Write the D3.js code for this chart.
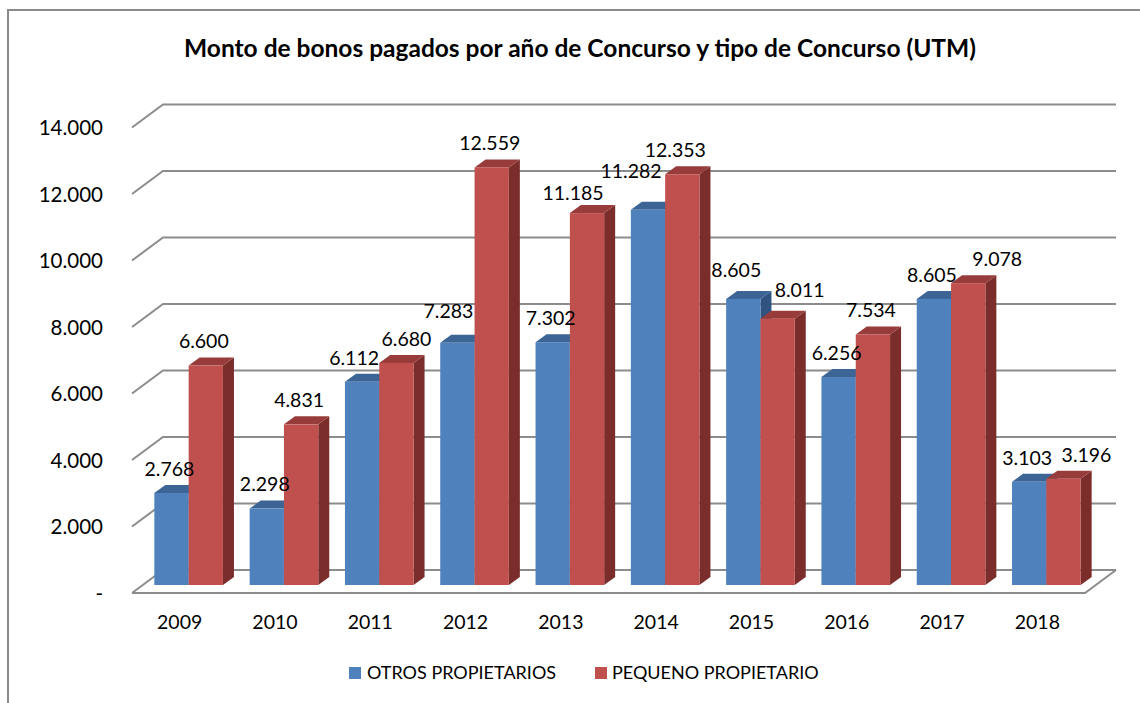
<!DOCTYPE html>
<html><head><meta charset="utf-8">
<script src="https://cdn.jsdelivr.net/npm/d3@7/dist/d3.min.js"></script>
<style>
html,body{margin:0;padding:0;background:#fff;}
svg text{font-family:Lato,"Open Sans",sans-serif;fill:#000;}
</style></head>
<body>
<svg id="chart" width="1140" height="703"></svg>
<script>
const title = "Monto de bonos pagados por año de Concurso y tipo de Concurso (UTM)";
const years = ["2009","2010","2011","2012","2013","2014","2015","2016","2017","2018"];
const seriesNames = ["OTROS PROPIETARIOS","PEQUENO PROPIETARIO"];
const otros = [2768,2298,6112,7283,7302,11282,8605,6256,8605,3103];
const pequeno = [6600,4831,6680,12559,11185,12353,8011,7534,9078,3196];
const yTicks = [0,2000,4000,6000,8000,10000,12000,14000];

const colors = {
  front:["#4F81BD","#C0504D"],
  top:["#3C6596","#973C3A"],
  side:["#2F5482","#7A2D2B"]
};

const svg = d3.select("#chart");

// chart border
svg.append("path").attr("d","M8,712 L8,10 L1150,10").attr("fill","none")
  .attr("stroke","#8a8a8a").attr("stroke-width",2);

// geometry
const x0 = 132, x1 = 1085;
const depthX = 31, depthY = -23;   // floor depth
const barDX = 9, barDY = -8;       // bar front offset into depth
const sideDX = 11, sideDY = -8;    // bar thickness
const y = d3.scaleLinear().domain([0,14000]).range([593,127.5]);
const x = d3.scaleBand().domain(years).range([x0,x1]).paddingInner(0).paddingOuter(0);
const barW = x.bandwidth()*0.36;

// gridlines (back wall + left wall diagonal)
const grid = svg.append("g").attr("stroke","#8c8c8c").attr("stroke-width",2).attr("fill","none");
yTicks.forEach(t=>{
  const yf = y(t);
  grid.append("path").attr("d",`M${x0},${yf} L${x0+depthX},${yf+depthY} L${x1+depthX},${yf+depthY}`);
});
// floor front & right edges
grid.append("path").attr("d",`M${x0},${y(0)} L${x1},${y(0)} L${x1+depthX},${y(0)+depthY}`);

// y-axis labels
const loc = d3.formatLocale({decimal:",",thousands:".",grouping:[3],currency:["",""]});
const fmt = loc.format(",.0f");
const yAxis = d3.axisLeft(y).tickValues(yTicks).tickSize(0).tickPadding(0)
  .tickFormat(d=> d===0 ? "-" : fmt(d));
const ga = svg.append("g").attr("transform","translate(103,0)").call(yAxis);
ga.select(".domain").remove();
ga.selectAll("text").attr("font-size","20.5px").attr("font-family","Lato").attr("fill","#000").attr("dy","0.35em");

// x-axis labels
const xAxis = d3.axisBottom(x).tickSize(0).tickPadding(0);
const gx = svg.append("g").attr("transform",`translate(0,${y(0)+29})`).call(xAxis);
gx.select(".domain").remove();
gx.selectAll("text").attr("font-size","19.5px").attr("font-family","Lato").attr("fill","#000").attr("dy","0.35em");

// bars
const data = [];
years.forEach((yr,i)=>{
  data.push({year:yr, s:0, v:otros[i]});
  data.push({year:yr, s:1, v:pequeno[i]});
});
function geom(d){
  const cx = x(d.year) + x.bandwidth()/2 + barDX;
  const xl = d.s===0 ? cx - barW : cx;
  const xr = xl + barW;
  const yb = y(0) + barDY;
  const yt = y(d.v) + barDY;
  return {xl,xr,yb,yt,cx:(xl+xr)/2};
}
const bars = svg.append("g");
data.forEach(d=>{
  const g = geom(d);
  const gg = bars.append("g");
  gg.append("path").attr("fill",colors.side[d.s])
    .attr("d",`M${g.xr},${g.yt} L${g.xr+sideDX},${g.yt+sideDY} L${g.xr+sideDX},${g.yb+sideDY} L${g.xr},${g.yb}Z`);
  gg.append("path").attr("fill",colors.top[d.s])
    .attr("d",`M${g.xl},${g.yt} L${g.xr},${g.yt} L${g.xr+sideDX},${g.yt+sideDY} L${g.xl+sideDX},${g.yt+sideDY}Z`);
  gg.append("rect").attr("fill",colors.front[d.s])
    .attr("x",g.xl).attr("y",g.yt).attr("width",g.xr-g.xl).attr("height",g.yb-g.yt);
});

// value labels (with small placement nudges to mimic reference layout)
const nudge = {
  "0-2011":[-6,0], "1-2011":[12,0],
  "0-2012":[-7,-8],
  "1-2013":[-12,4],
  "0-2014":[-15,-15], "1-2014":[-5,0],
  "0-2015":[-5,-5], "1-2015":[24,-4],
  "1-2017":[31,0],
  "1-2018":[25,0]
};
const labels = svg.append("g");
data.forEach(d=>{
  const g = geom(d);
  const n = nudge[d.s+"-"+d.year] || [0,0];
  labels.append("text").attr("text-anchor","middle")
    .attr("x", g.cx - 2 + n[0]).attr("y", g.yt - 24 + n[1]).attr("dy","0.35em")
    .attr("font-size","19.5px").text(fmt(d.v));
});

// title
svg.append("text").attr("x",580).attr("y",48).attr("dy","0.35em").attr("text-anchor","middle")
  .attr("font-weight","bold").attr("font-size","24.5px").text(title);

// legend
const leg = svg.append("g");
const legItems = [{x:349,tx:367},{x:595,tx:612}];
seriesNames.forEach((nm,i)=>{
  leg.append("rect").attr("x",legItems[i].x).attr("y",667).attr("width",12).attr("height",12).attr("fill",colors.front[i]);
  leg.append("text").attr("x",legItems[i].tx).attr("y",673).attr("dy","0.35em").attr("font-size","18px").text(nm);
});
</script>
</body></html>
